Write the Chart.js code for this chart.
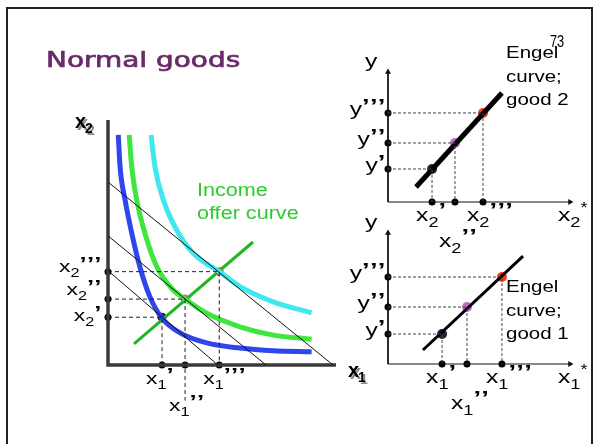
<!DOCTYPE html>
<html>
<head>
<meta charset="utf-8">
<title>Normal goods</title>
<script src="https://cdn.jsdelivr.net/npm/chart.js@4"></script>
<style>
  body { margin: 0; background: #fff; }
  #slide { position: relative; width: 596px; height: 444px; overflow: hidden; background: #fff; }
  #slide canvas { position: absolute; left: 0; top: 0; }
  #frame { position: absolute; left: 6px; top: 7px; width: 583px; height: 470px; border: 2px solid #222; }
</style>
</head>
<body>
<div id="slide">
  <div id="frame"></div>
  <canvas id="demand" width="596" height="444"></canvas>
  <canvas id="engel2" width="596" height="444"></canvas>
  <canvas id="engel1" width="596" height="444"></canvas>
</div>
<script>
// ---- left diagram: goods space (x1 across, x2 up) ----
const budgetX1 = [4.82, 6.93, 9.87];   // budget line intercepts on x1
const budgetX2 = [3.85, 5.27, 7.47];   // ... and on x2
const lowCurve = [[0.45, 9.39], [0.53, 8.08], [0.75, 6.73], [1.04, 5.39], [1.40, 4.0], [1.84, 2.78],
                  [2.36, 1.92], [3.16, 1.31], [4.33, 0.90], [5.79, 0.69], [7.24, 0.58], [8.93, 0.54]];
const midCurve = [[0.93, 9.39], [1.04, 8.09], [1.26, 6.73], [1.62, 5.38], [2.14, 4.01], [2.86, 3.06],
                  [3.38, 2.69], [4.33, 2.11], [5.79, 1.56], [7.25, 1.22], [8.93, 1.05]];
const highCurve = [[1.89, 9.39], [2.06, 8.09], [2.43, 6.73], [3.01, 5.51], [3.74, 4.56], [4.88, 3.81],
                   [5.79, 3.20], [7.25, 2.58], [8.93, 2.13]];
const offerCurve = [[1.14, 0.86], [6.36, 5.02]];
const bundleX1 = [2.37, 3.38, 4.88];
const bundleX2 = [1.95, 2.69, 3.81];
const x1Ticks = ["x_1'", "x_1''", "x_1'''"];
const x2Ticks = ["x_2'", "x_2''", "x_2'''"];

// ---- right diagrams: Engel curves (demand across, income up) ----
const engel2Line = [[1.54, 1.15], [6.26, 8.38]];
const engel2X = [2.42, 3.68, 5.22];
const engel2Y = [2.54, 4.54, 6.85];
const engel1Line = [[1.92, 1.07], [7.42, 8.24]];
const engel1X = [2.97, 4.34, 6.26];
const engel1Y = [2.29, 4.35, 6.64];
const incomeTicks = ["y'", "y''", "y'''"];

const bundleColors = ['#2d1a36', '#bf6cc7', '#ff3b10'];
const FONT = '"Liberation Sans", Arial, sans-serif';
const x2LabelShift = [4, -4, 0];   // baseline nudge of the x2 labels against their dots

const pts = arr => arr.map(([x, y]) => ({ x, y }));

function stroke(data, color, width, extra) {
  return Object.assign({
    data: pts(data), showLine: true, borderColor: color, borderWidth: width,
    pointRadius: 0, pointHoverRadius: 0, clip: false, fill: false
  }, extra || {});
}

function dots(xs, ys, colors, r) {
  return {
    data: xs.map((x, i) => ({ x, y: ys[i] })), showLine: false,
    pointRadius: r, pointHoverRadius: r, pointBackgroundColor: colors,
    pointBorderWidth: 0, clip: false
  };
}

// dashed guides from the y axis to each point and down to the x axis
function guides(xs, ys, color, dash, floors) {
  return xs.map((x, i) => stroke([[0, ys[i]], [x, ys[i]], [x, floors ? floors[i] : 0]], color, 1, { borderDash: dash }));
}

// text squeezed/stretched horizontally, optional outline to thicken it
function wideText(ctx, str, x, y, font, sx, color, weight) {
  ctx.save();
  ctx.translate(x, y);
  ctx.scale(sx, 1);
  ctx.font = font;
  ctx.fillStyle = color || '#000';
  ctx.textAlign = 'left';
  ctx.fillText(str, 0, 0);
  if (weight) {
    ctx.strokeStyle = color;
    ctx.lineWidth = weight;
    ctx.strokeText(str, 0, 0);
  }
  ctx.restore();
}

// "x_1'''" -> x with subscript 1 and three primes, "x_2*" -> star
function mathLabel(ctx, str, px, base, align, size, sx, lift) {
  const [, main, sub, marks] = str.match(/^([a-z])(?:_(\d))?(.*)$/);
  const big = size + 'px ' + FONT, small = Math.round(size * 0.72) + 'px ' + FONT;
  const prime = 'bold ' + Math.round(size * 1.1) + 'px ' + FONT;
  ctx.font = big;
  const wMain = ctx.measureText(main).width;
  ctx.font = small;
  const wSub = sub ? ctx.measureText(sub).width : 0;
  const step = size * 0.32;
  let wMarks = 0;
  if (marks === '*') wMarks = ctx.measureText('*').width;
  else if (marks.length) wMarks = (marks.length - 1) * step + size * 0.25;
  const total = (wMain + wSub + wMarks) * sx;
  const left = align === 'right' ? px - total : px;
  ctx.save();
  ctx.translate(left, base);
  ctx.scale(sx, 1);
  ctx.fillStyle = '#000';
  ctx.textAlign = 'left';
  ctx.font = big;
  ctx.fillText(main, 0, 0);
  ctx.font = small;
  if (sub) ctx.fillText(sub, wMain, size * 0.3);
  const cx = wMain + wSub;
  if (marks === '*') {
    ctx.fillText('*', cx, -size * 0.45);
  } else {
    ctx.font = prime;
    for (let k = 0; k < marks.length; k++) ctx.fillText('\u2019', cx + k * step, -size * lift);
  }
  ctx.restore();
}

function boldAxisName(ctx, main, sub, x, y) {
  ctx.save();
  ctx.shadowColor = '#8a8a8a';
  ctx.shadowOffsetX = 2;
  ctx.shadowOffsetY = 2;
  ctx.fillStyle = '#000';
  ctx.font = 'bold 20px ' + FONT;
  ctx.fillText(main, x, y);
  const w = ctx.measureText(main).width;
  ctx.font = 'bold 14px ' + FONT;
  ctx.fillText(sub, x + w - 1, y + 5);
  ctx.restore();
}

function panel(id, pad, datasets, drawText) {
  return new Chart(document.getElementById(id), {
    type: 'scatter',
    data: { datasets },
    options: {
      responsive: false,
      animation: false,
      devicePixelRatio: 1,
      events: [],
      layout: { padding: pad },
      scales: {
        x: { type: 'linear', display: false, min: 0, max: 10 },
        y: { type: 'linear', display: false, min: 0, max: 10 }
      },
      plugins: { legend: { display: false }, tooltip: { enabled: false } }
    },
    plugins: [{ id: 'labels_' + id, afterDatasetsDraw: drawText }]
  });
}

// ---------- goods space ----------
const demandSets = [];
budgetX1.forEach((b, i) => demandSets.push(stroke([[0, budgetX2[i]], [b, 0]], '#111', 1)));
demandSets.push(...guides(bundleX1, bundleX2, '#222', [4, 3], [0, -1.45, 0]));
demandSets.push(stroke(lowCurve, '#2f45ee', 5, { cubicInterpolationMode: 'monotone' }));
demandSets.push(stroke(midCurve, '#3ee63e', 5, { cubicInterpolationMode: 'monotone' }));
demandSets.push(stroke(highCurve, '#3ee8ee', 5, { cubicInterpolationMode: 'monotone' }));
demandSets.push(stroke(offerCurve, '#1fb61f', 3));
demandSets.push(stroke([[0, 10], [0, 0], [10, 0]], '#3a3a3a', 3.5));
demandSets.push(dots([0, 0, 0], bundleX2, '#000', 3.5));
demandSets.push(dots(bundleX1, [0, 0, 0], '#000', 3.5));
demandSets.push(dots(bundleX1, bundleX2, bundleColors, 4.5));

panel('demand', { left: 108, right: 260, top: 120, bottom: 79 }, demandSets, chart => {
  const { ctx, scales: { x, y } } = chart;
  const x0 = x.getPixelForValue(0), y0 = y.getPixelForValue(0);
  wideText(ctx, 'Normal goods', 46, 67, '22px "DejaVu Sans", sans-serif', 1.27, '#6a2b6a', 0.7);
  wideText(ctx, '73', 550, 47, '16px ' + FONT, 0.8, '#000');
  wideText(ctx, 'Income', 197, 196, '18px ' + FONT, 1.2, '#2ccc2c');
  wideText(ctx, 'offer curve', 197, 219, '18px ' + FONT, 1.2, '#2ccc2c');
  boldAxisName(ctx, 'x', '2', x0 - 33, y.getPixelForValue(10) + 8);
  boldAxisName(ctx, 'x', '1', x.getPixelForValue(10) + 12, y0 + 12);
  bundleX2.forEach((v, i) => mathLabel(ctx, x2Ticks[i], x0 - 8, y.getPixelForValue(v) + x2LabelShift[i], 'right', 17, 1.35, 0.12));
  bundleX1.forEach((v, i) => mathLabel(ctx, x1Ticks[i], x.getPixelForValue(v) - 16, y0 + (i === 1 ? 46 : 19), 'left', 17, 1.35, 0.2));
});

// ---------- Engel curves ----------
function engelSets(line, xs, ys, lineWidth) {
  const sets = [];
  sets.push(...guides(xs, ys, '#444', [3, 2]));
  sets.push(stroke([[0, 10], [0, 0], [10, 0]], '#111', 1));
  sets.push(dots([0, 10], [10, 0], '#111', 3.5));
  sets[sets.length - 1].pointStyle = 'triangle';
  sets[sets.length - 1].rotation = [0, 90];
  sets.push(stroke(line, '#000', lineWidth));
  sets.push(dots([0, 0, 0], ys, '#000', 3.5));
  sets.push(dots(xs, [0, 0, 0], '#000', 3.5));
  sets.push(dots(xs, ys, bundleColors, 5));
  return sets;
}

function engelText(xs, ys, xTicks, starTick, words, wordsTop) {
  return chart => {
    const { ctx, scales: { x, y } } = chart;
    const x0 = x.getPixelForValue(0), y0 = y.getPixelForValue(0), yTop = y.getPixelForValue(10);
    mathLabel(ctx, 'y', x0 - 23, yTop - 5, 'left', 19, 1.3, 0.15);
    ys.forEach((v, i) => mathLabel(ctx, incomeTicks[i], x0 - 4, y.getPixelForValue(v) + 2, 'right', 19, 1.3, 0.12));
    xs.forEach((v, i) => mathLabel(ctx, xTicks[i], x.getPixelForValue(v) - 16, y0 + (i === 1 ? 45 : 19), 'left', 19, 1.3, 0.2));
    mathLabel(ctx, starTick, x.getPixelForValue(10) - 12, y0 + 19, 'left', 19, 1.3, 0.3);
    words.forEach((w, i) => wideText(ctx, w, 506, yTop + wordsTop + i * 23.5, '16px ' + FONT, 1.28, '#000'));
  };
}

panel('engel2', { left: 388, right: 26, top: 72, bottom: 242 },
  engelSets(engel2Line, engel2X, engel2Y, 5),
  engelText(engel2X, engel2Y, x2Ticks, 'x_2*', ['Engel', 'curve;', 'good 2'], -14));

panel('engel1', { left: 388, right: 26, top: 233, bottom: 80 },
  engelSets(engel1Line, engel1X, engel1Y, 3),
  engelText(engel1X, engel1Y, x1Ticks, 'x_1*', ['Engel', 'curve;', 'good 1'], 59));
</script>
</body>
</html>
